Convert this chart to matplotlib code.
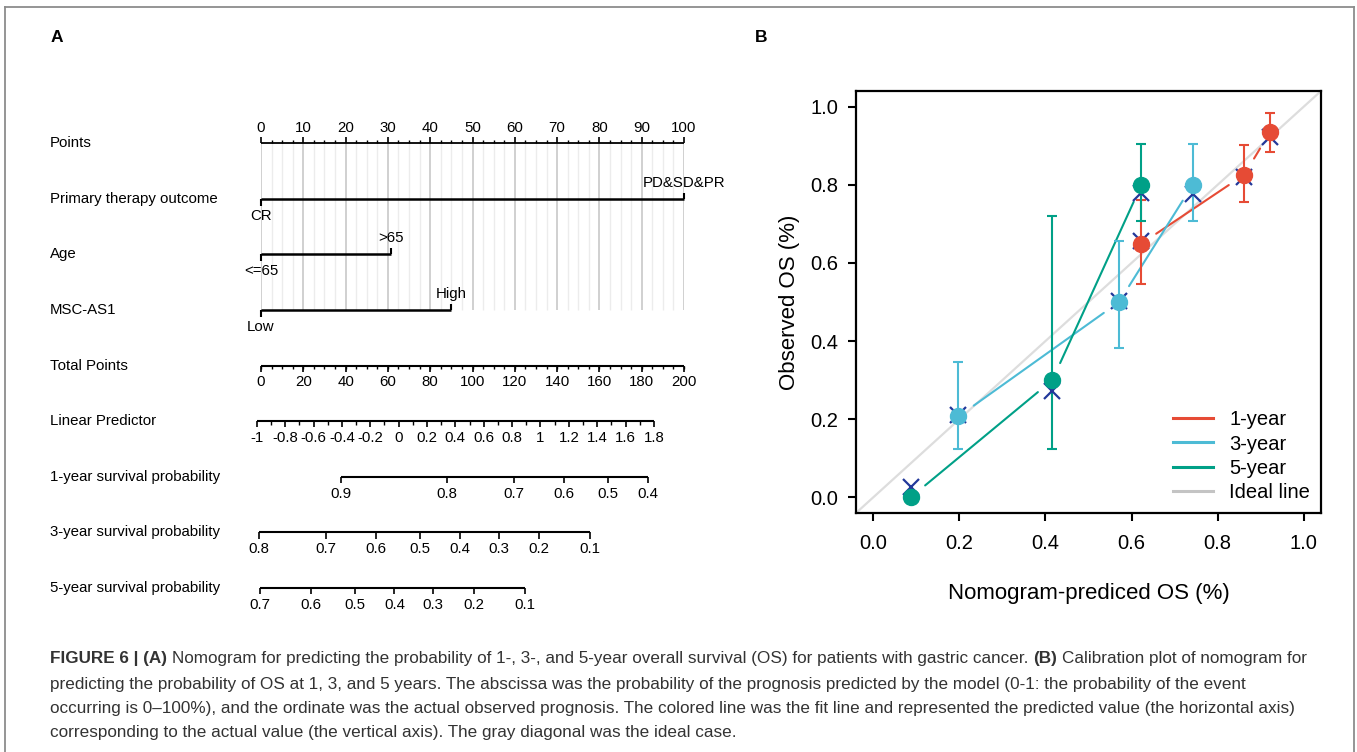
import numpy as np
import matplotlib.pyplot as plt
from matplotlib.lines import Line2D

plt.rcParams['font.family'] = ['Liberation Sans', 'DejaVu Sans']

# ---------------- nomogram (panel A) ----------------
row_names = ['Points', 'Primary therapy outcome', 'Age', 'MSC-AS1', 'Total Points',
             'Linear Predictor', '1-year survival probability',
             '3-year survival probability', '5-year survival probability']

points_major = [0, 10, 20, 30, 40, 50, 60, 70, 80, 90, 100]

outcome_levels = ['CR', 'PD&SD&PR']
age_levels = ['<=65', '>65']
msc_levels = ['Low', 'High']
level_points = [100, 30.8, 44.9]   # points of the second level, first level = 0

total_major = [0, 20, 40, 60, 80, 100, 120, 140, 160, 180, 200]

lp_labels = ['-1', '-0.8', '-0.6', '-0.4', '-0.2', '0', '0.2', '0.4', '0.6',
             '0.8', '1', '1.2', '1.4', '1.6', '1.8']
lp_values = [-1.0, -0.8, -0.6, -0.4, -0.2, 0.0, 0.2, 0.4, 0.6, 0.8, 1.0, 1.2, 1.4, 1.6, 1.8]
lp_total_ends = [-2.0, 185.8]   # total points where lp = -1 and lp = 1.8

surv1_labels = ['0.9', '0.8', '0.7', '0.6', '0.5', '0.4']
surv1_total = [37.7, 87.9, 119.6, 143.4, 163.9, 182.9]
surv3_labels = ['0.8', '0.7', '0.6', '0.5', '0.4', '0.3', '0.2', '0.1']
surv3_total = [-1.0, 30.7, 54.5, 75.0, 94.0, 112.4, 131.6, 155.7]
surv5_labels = ['0.7', '0.6', '0.5', '0.4', '0.3', '0.2', '0.1']
surv5_total = [-0.6, 23.8, 44.5, 63.1, 81.4, 100.8, 124.7]

# ---------------- calibration (panel B) ----------------
pred_1 = [0.621, 0.862, 0.921]
obs_1 = [0.648, 0.826, 0.934]
low_1 = [0.547, 0.755, 0.885]
high_1 = [0.762, 0.902, 0.983]
corr_1 = [0.655, 0.821, 0.921]

pred_3 = [0.198, 0.571, 0.742]
obs_3 = [0.207, 0.500, 0.800]
low_3 = [0.123, 0.383, 0.708]
high_3 = [0.346, 0.657, 0.904]
corr_3 = [0.212, 0.503, 0.776]

pred_5 = [0.087, 0.416, 0.623]
obs_5 = [0.000, 0.300, 0.800]
low_5 = [0.000, 0.125, 0.708]
high_5 = [0.000, 0.719, 0.904]
corr_5 = [0.026, 0.272, 0.780]

W, H = 1357, 752
fig = plt.figure(figsize=(W / 100, H / 100), dpi=100)
fig.patch.set_facecolor('white')

# outer frame
fc = '#8c8c8c'
fig.add_artist(Line2D([5 / W, 5 / W], [-0.01, 1 - 7 / H], color=fc, lw=1.3))
fig.add_artist(Line2D([5 / W, 1354 / W], [1 - 7 / H, 1 - 7 / H], color=fc, lw=1.3))
fig.add_artist(Line2D([1354 / W, 1354 / W], [-0.01, 1 - 7 / H], color=fc, lw=1.3))

fig.text(57 / W, 1 - 37 / H, 'A', fontsize=12.5, fontweight='bold', ha='center', va='center')
fig.text(761 / W, 1 - 37 / H, 'B', fontsize=12.5, fontweight='bold', ha='center', va='center')

# nomogram axes: x in points (0-100), y in rows (0-8)
row_px = 55.6
axA = fig.add_axes([261 / W, 1 - 588 / H, 423 / W, (588 - 143.3) / H])
axA.set_xlim(0, 100)
axA.set_ylim(8, 0)
axA.axis('off')
u = 1 / row_px
fs = 10.8
lk = dict(color='black', clip_on=False)

for i, name in enumerate(row_names):
    axA.text(-49.9, i, name, fontsize=fs, ha='left', va='center')

# grid
minor = np.arange(0, 100.1, 2.5)
for p in minor:
    if p % 10 == 0:
        axA.vlines(p, 0, 3, color='#CDCDCD', lw=1.3, zorder=0)
    else:
        axA.vlines(p, 0, 3, color='#ECECEC', lw=1.0, zorder=0)

# points axis
axA.hlines(0, 0, 100, lw=1.3, **lk)
axA.vlines(points_major, -6 * u, 0, lw=1.2, **lk)
axA.vlines([p for p in minor if p % 10 != 0], -3 * u, 0, lw=1.0, **lk)
for p in points_major:
    axA.text(p, -15.6 * u, str(p), fontsize=fs, ha='center', va='center')

# categorical rows
for i, (levels, pts) in enumerate(zip([outcome_levels, age_levels, msc_levels], level_points)):
    r = i + 1
    axA.hlines(r, 0, pts, lw=1.8, **lk)
    axA.vlines(0, r, r + 7 * u, lw=1.5, **lk)
    axA.vlines(pts, r - 6 * u, r, lw=1.5, **lk)
    axA.text(0, r + 17 * u, levels[0], fontsize=fs, ha='center', va='center')
    axA.text(pts, r - 16 * u, levels[1], fontsize=fs, ha='center', va='center')

# total points
r = 4
axA.hlines(r, 0, 100, lw=1.5, **lk)
axA.vlines([t / 2 for t in total_major], r, r + 6 * u, lw=1.2, **lk)
axA.vlines(np.arange(0, 200.1, 5) / 2, r, r + 3.5 * u, lw=1.0, **lk)
for t in total_major:
    axA.text(t / 2, r + 16.5 * u, str(t), fontsize=fs, ha='center', va='center')


def lp_to_pts(v):
    a, b = lp_total_ends
    return (a + (np.asarray(v) + 1) * (b - a) / 2.8) / 2


r = 5
lpx = lp_to_pts(lp_values)
axA.hlines(r, lpx[0], lpx[-1], lw=1.5, **lk)
axA.vlines(lpx, r, r + 6 * u, lw=1.2, **lk)
axA.vlines((lpx[:-1] + lpx[1:]) / 2, r, r + 3.5 * u, lw=1.0, **lk)
for x, lab in zip(lpx, lp_labels):
    axA.text(x, r + 16.5 * u, lab, fontsize=fs, ha='center', va='center')

for r, labs, tot in [(6, surv1_labels, surv1_total), (7, surv3_labels, surv3_total),
                     (8, surv5_labels, surv5_total)]:
    xs = np.array(tot) / 2
    axA.hlines(r, xs.min(), xs.max(), lw=1.5, **lk)
    axA.vlines(xs, r, r + 6.5 * u, lw=1.2, **lk)
    for x, lab in zip(xs, labs):
        axA.text(x, r + 17 * u, lab, fontsize=fs, ha='center', va='center')

# ---------------- panel B ----------------
axB = fig.add_axes([856 / W, 1 - 513 / H, 465 / W, 422 / H])
axB.set_xlim(-0.04, 1.04)
axB.set_ylim(-0.04, 1.04)
axB.plot([-0.04, 1.04], [-0.04, 1.04], color='#DDDDDD', lw=1.6, zorder=1)

series = [
    (pred_1, obs_1, low_1, high_1, corr_1, '#E64B35', '1-year'),
    (pred_3, obs_3, low_3, high_3, corr_3, '#4DBBD5', '3-year'),
    (pred_5, obs_5, low_5, high_5, corr_5, '#00A087', '5-year'),
]
for pred, obs, low, high, corr, c, lab in series:
    for k in range(len(pred) - 1):
        axB.annotate('', xy=(pred[k + 1], obs[k + 1]), xytext=(pred[k], obs[k]),
                     arrowprops=dict(arrowstyle='-', color=c, lw=1.5,
                                     shrinkA=13.5, shrinkB=13.5), zorder=2)
    obs_a = np.array(obs)
    axB.errorbar(pred, obs, yerr=[obs_a - np.array(low), np.array(high) - obs_a],
                 fmt='none', ecolor=c, elinewidth=1.5, capsize=3.6, capthick=1.5, zorder=3)
    axB.plot(pred, corr, ls='none', marker='x', ms=11, mew=1.6, color='#22389A', zorder=4)
    axB.plot(pred, obs, ls='none', marker='o', ms=11.5, color=c, zorder=5)

handles = [Line2D([], [], color=s[5], lw=2.2) for s in series]
handles.append(Line2D([], [], color='#C4C4C4', lw=2.2))
axB.legend(handles, ['1-year', '3-year', '5-year', 'Ideal line'], frameon=False,
           fontsize=14.5, loc='upper left', bbox_to_anchor=(1163 / W, 1 - 400 / H),
           bbox_transform=fig.transFigure, borderpad=0, handlelength=2.0,
           handletextpad=0.8, labelspacing=0.27)

ticks = [0.0, 0.2, 0.4, 0.6, 0.8, 1.0]
axB.set_xticks(ticks)
axB.set_yticks(ticks)
axB.set_xticklabels(['%.1f' % t for t in ticks])
axB.set_yticklabels(['%.1f' % t for t in ticks])
for sp in axB.spines.values():
    sp.set_linewidth(1.6)
axB.tick_params(length=6, width=1.5, labelsize=14.5)
axB.tick_params(axis='x', pad=9)
axB.tick_params(axis='y', pad=7)
axB.set_xlabel('Nomogram-prediced OS (%)', fontsize=16, labelpad=22)
axB.set_ylabel('Observed OS (%)', fontsize=16, labelpad=7)

# ---------------- caption ----------------
cap_fs = 12.3
cap_col = '#333333'
renderer = fig.canvas.get_renderer()
sp_w = (fig.text(0, 0, 'x x', fontsize=cap_fs).get_window_extent(renderer).width
        - fig.text(0, 0, 'xx', fontsize=cap_fs).get_window_extent(renderer).width)
for t in fig.texts[-2:]:
    t.remove()

caption = [
    [('FIGURE 6 | (A)', True),
     ('Nomogram for predicting the probability of 1-, 3-, and 5-year overall survival (OS) for patients with gastric cancer.', False),
     ('(B)', True), ('Calibration plot of nomogram for', False)],
    [('predicting the probability of OS at 1, 3, and 5 years. The abscissa was the probability of the prognosis predicted by the model (0-1: the probability of the event', False)],
    [('occurring is 0\u2013100%), and the ordinate was the actual observed prognosis. The colored line was the fit line and represented the predicted value (the horizontal axis)', False)],
    [('corresponding to the actual value (the vertical axis). The gray diagonal was the ideal case.', False)],
]
cap_y = [659, 684, 708, 732]
for parts, y in zip(caption, cap_y):
    x = 50
    for txt, bold in parts:
        t = fig.text(x / W, 1 - y / H, txt, fontsize=cap_fs, color=cap_col,
                     fontweight='bold' if bold else 'normal', ha='left', va='center')
        x += t.get_window_extent(renderer).width + sp_w

fig.savefig('out.png', dpi=100, facecolor='white')
